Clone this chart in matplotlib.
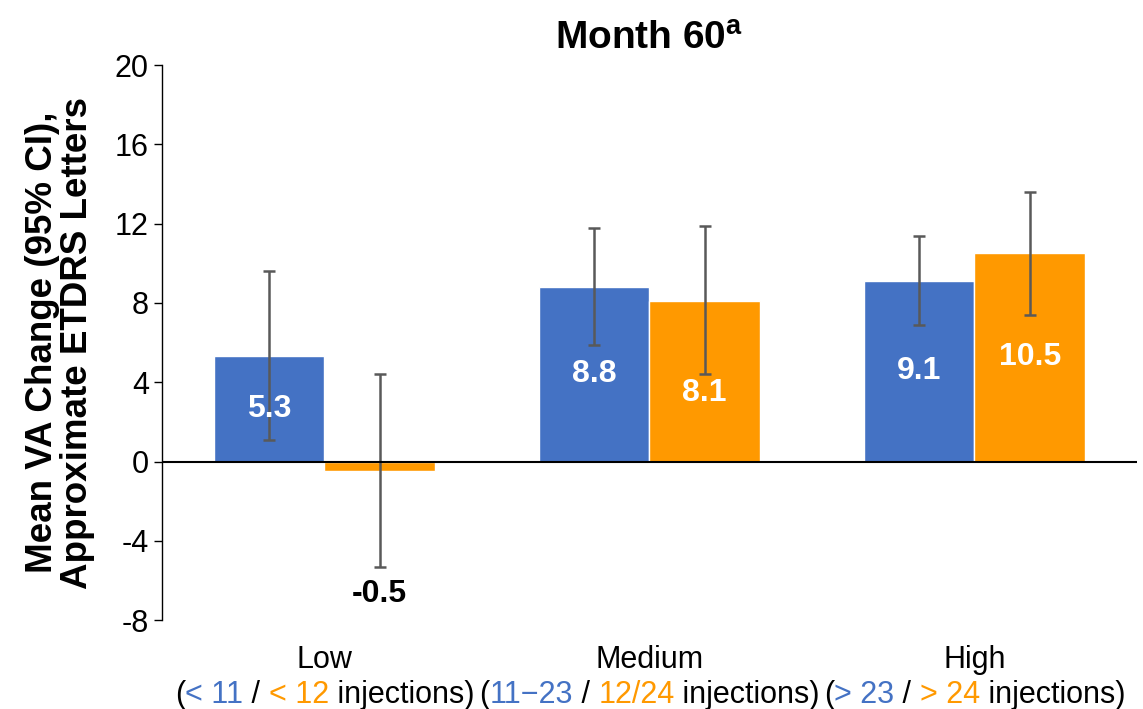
import numpy as np
import matplotlib.pyplot as plt
from matplotlib.offsetbox import TextArea, HPacker, AnnotationBbox

plt.rcParams['font.family'] = ['Liberation Sans', 'DejaVu Sans']
plt.rcParams['mathtext.fontset'] = 'custom'
plt.rcParams['mathtext.rm'] = 'Liberation Sans'
plt.rcParams['mathtext.bf'] = 'Liberation Sans:bold'
plt.rcParams['axes.unicode_minus'] = False

groups = ['Low', 'Medium', 'High']
blue_ranges = ['< 11', '11\u221223', '> 23']
orange_ranges = ['< 12', '12/24', '> 24']

blue_mean = [5.3, 8.8, 9.1]
blue_lo = [1.1, 5.9, 6.9]
blue_hi = [9.6, 11.8, 11.4]

orange_mean = [-0.5, 8.1, 10.5]
orange_lo = [-5.3, 4.4, 7.4]
orange_hi = [4.4, 11.9, 13.6]

BLUE = '#4472C4'
ORANGE = '#FF9900'
GREY = '#595959'

fig = plt.figure(figsize=(11.43, 7.09), dpi=100)
ax = fig.add_axes([0.1417, 0.1255, 0.853, 0.7825])

x = np.arange(len(groups))
w = 0.34

def draw_series(xs, mean, lo, hi, color):
    mean = np.array(mean)
    yerr = [mean - np.array(lo), np.array(hi) - mean]
    ax.bar(xs, mean, width=w, color=color, edgecolor='white', linewidth=1, zorder=2)
    ax.errorbar(xs, mean, yerr=yerr, fmt='none', ecolor=GREY, elinewidth=1.8,
                capsize=4.5, capthick=1.8, zorder=3)

draw_series(x - w / 2, blue_mean, blue_lo, blue_hi, BLUE)
draw_series(x + w / 2, orange_mean, orange_lo, orange_hi, ORANGE)

# value labels: inside the bar for positive values, under the CI for negative ones
nudge = {(1, 1): -0.6}
for s, (mean, lo, off) in enumerate([(blue_mean, blue_lo, -w / 2),
                                     (orange_mean, orange_lo, w / 2)]):
    for i, v in enumerate(mean):
        if v >= 0:
            ax.text(x[i] + off, v / 2 + nudge.get((s, i), 0), f'{v:.1f}', color='white',
                    fontsize=23, fontweight='bold', ha='center', va='center', zorder=4)
        else:
            ax.text(x[i] + off, lo[i] - 1.4, f'{v:.1f}', color='black',
                    fontsize=23, fontweight='bold', ha='center', va='center', zorder=4)

ax.axhline(0, color='black', linewidth=1.5, zorder=3)

ax.set_xlim(-0.5, 2.5)
ax.set_ylim(-8, 20)
ax.set_yticks(np.arange(-8, 21, 4))
ax.tick_params(axis='y', labelsize=22, direction='out', length=6, width=1)
ax.set_xticks([])
for side in ['top', 'right', 'bottom']:
    ax.spines[side].set_visible(False)
ax.spines['left'].set_linewidth(1)

ax.set_ylabel('Mean VA Change (95% CI),\nApproximate ETDRS Letters',
              fontsize=26.5, fontweight='bold', labelpad=14, linespacing=1.0)
ax.set_title(r'Month 60$^{\mathbf{a}}$', fontsize=28, fontweight='bold', pad=12)

# two-line category labels, second line coloured by series
fs = 22
for i, g in enumerate(groups):
    ax.annotate(g, xy=(x[i], 0), xycoords=('data', 'axes fraction'),
                xytext=(0, -18), textcoords='offset points',
                ha='center', va='top', fontsize=fs)
    parts = [TextArea('(', textprops=dict(fontsize=fs, color='black')),
             TextArea(blue_ranges[i], textprops=dict(fontsize=fs, color=BLUE)),
             TextArea(' / ', textprops=dict(fontsize=fs, color='black')),
             TextArea(orange_ranges[i], textprops=dict(fontsize=fs, color=ORANGE)),
             TextArea(' injections)', textprops=dict(fontsize=fs, color='black'))]
    box = HPacker(children=parts, align='baseline', pad=0, sep=0)
    ab = AnnotationBbox(box, (x[i], 0), xycoords=('data', 'axes fraction'),
                        xybox=(0, -43), boxcoords='offset points',
                        box_alignment=(0.5, 1), frameon=False)
    ax.add_artist(ab)

fig.savefig('out.png', dpi=100)
